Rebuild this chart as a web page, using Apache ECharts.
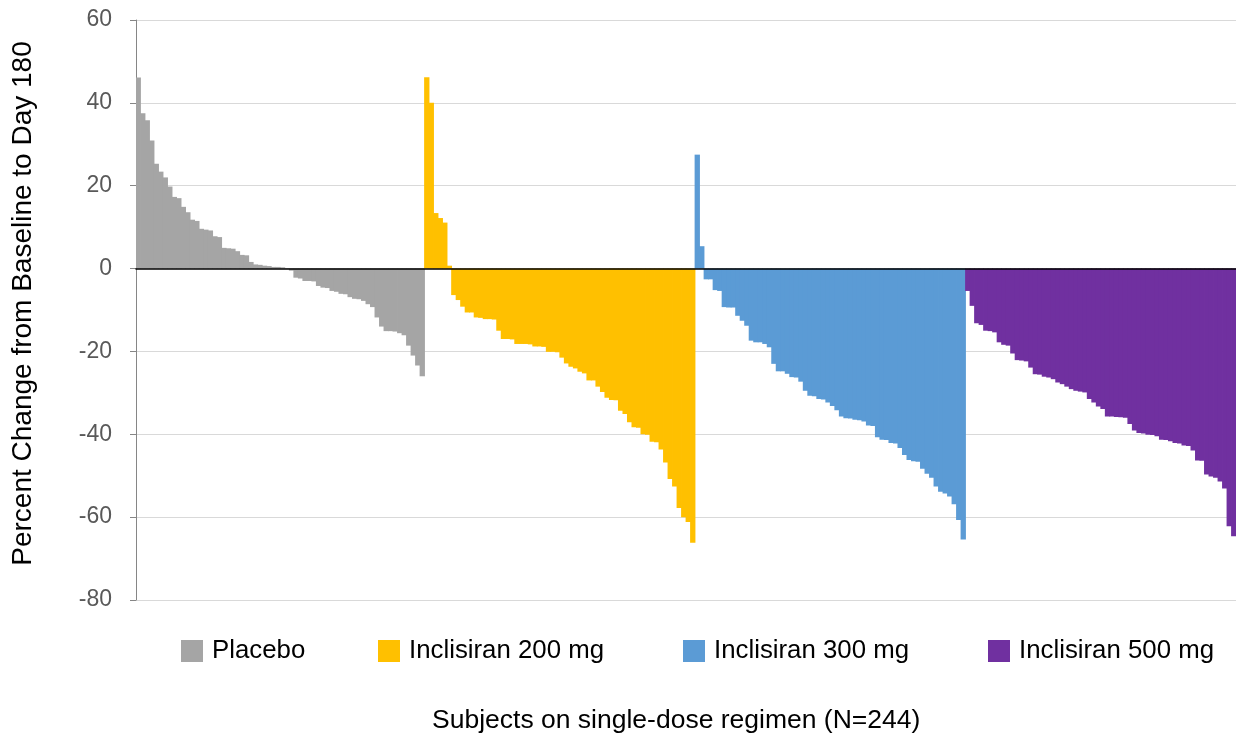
<!DOCTYPE html>
<html>
<head>
<meta charset="utf-8">
<script src="https://cdn.jsdelivr.net/npm/echarts@6/dist/echarts.min.js"></script>
<style>
html,body{margin:0;padding:0;background:#fff;}
#chart{width:1236px;height:740px;}
</style>
</head>
<body>
<div id="chart"></div>
<script>
// ---- data (percent change from baseline to day 180, sorted per group) ----
const seriesNames = ['Placebo', 'Inclisiran 200 mg', 'Inclisiran 300 mg', 'Inclisiran 500 mg'];

const placebo = [46.1, 37.5, 35.8, 30.9, 25.3, 23.4, 22.0, 19.8, 17.3, 17.0,
  14.9, 13.6, 11.8, 11.5, 9.6, 9.4, 9.2, 7.8, 7.6, 5.0,
  4.9, 4.8, 4.2, 3.3, 3.2, 1.6, 1.0, 0.9, 0.7, 0.6,
  0.4, 0.4, 0.3, -0.1, -0.5, -2.2, -2.4, -3.0, -3.0, -3.1,
  -4.2, -4.6, -4.7, -5.4, -5.6, -6.1, -6.2, -6.9, -7.3, -7.4,
  -7.8, -8.6, -9.3, -11.8, -14.0, -15.1, -15.1, -15.2, -15.6, -16.1,
  -18.6, -21.0, -23.4, -26.0];

const inc200 = [46.2, 40.0, 13.4, 12.2, 11.1, 0.7, -6.4, -7.6, -9.2, -10.6,
  -10.6, -11.8, -11.9, -12.2, -12.2, -12.3, -15.0, -17.0, -17.0, -17.1,
  -18.2, -18.2, -18.2, -18.3, -18.8, -18.8, -18.9, -20.1, -20.1, -20.2,
  -21.5, -22.9, -23.7, -24.1, -24.9, -25.3, -27.0, -27.0, -28.5, -29.8,
  -31.2, -31.7, -31.8, -34.3, -35.1, -37.1, -38.3, -38.4, -40.0, -40.1,
  -41.8, -41.9, -43.7, -46.8, -50.8, -52.6, -57.8, -60.0, -61.2, -66.2];

const inc300 = [27.5, 5.4, -2.6, -2.6, -5.2, -5.4, -9.3, -9.4, -9.4, -11.4,
  -12.6, -13.8, -17.4, -17.8, -17.8, -18.2, -19.0, -23.0, -24.8, -24.8,
  -25.4, -26.2, -26.3, -27.3, -29.5, -30.7, -30.8, -31.5, -31.6, -32.3,
  -33.2, -34.2, -35.7, -36.1, -36.2, -36.5, -36.6, -36.9, -37.9, -38.0,
  -40.7, -41.3, -41.4, -42.1, -42.2, -43.3, -45.0, -46.2, -46.5, -46.6,
  -48.3, -49.5, -50.5, -52.6, -53.9, -54.3, -55.0, -56.9, -60.7, -65.4];

const inc500 = [-5.4, -9.0, -13.2, -13.6, -15.0, -15.1, -15.4, -17.8, -18.4, -18.6,
  -20.5, -22.1, -22.2, -22.4, -23.9, -25.5, -25.6, -26.1, -26.3, -26.7,
  -27.5, -27.9, -28.5, -29.1, -29.5, -29.7, -29.9, -31.5, -32.3, -33.3,
  -33.9, -35.7, -35.7, -35.8, -35.9, -36.0, -37.5, -39.1, -39.7, -39.8,
  -40.1, -40.2, -40.5, -41.3, -41.4, -41.7, -42.1, -42.2, -42.7, -42.8,
  -43.9, -46.3, -46.4, -49.7, -50.2, -50.5, -51.4, -53.1, -62.2, -64.6];

const yTicks = [-80, -60, -40, -20, 0, 20, 40, 60];
const yTitle = 'Percent Change from Baseline to Day 180';
const xTitle = 'Subjects on single-dose regimen (N=244)';

// ---- build ----
const groups = [placebo, inc200, inc300, inc500];
const colors = ['#A5A5A5', '#FFC000', '#5B9BD5', '#7030A0'];
const total = groups.reduce((s, g) => s + g.length, 0);
const categories = [];
for (let i = 1; i <= total; i++) categories.push(String(i));

let offset = 0;
const series = groups.map((g, gi) => {
  const data = new Array(total).fill('-');
  g.forEach((v, k) => { data[offset + k] = v; });
  offset += g.length;
  return {
    name: seriesNames[gi],
    type: 'bar',
    stack: 'all',
    data: data,
    barWidth: '118%',
    itemStyle: { color: colors[gi] },
    emphasis: { disabled: true }
  };
});

const FONT = '"Liberation Sans", Arial, sans-serif';
const legendLefts = [181, 378, 683, 988];
const legends = seriesNames.map((n, i) => ({
  data: [n],
  left: legendLefts[i],
  top: 638,
  padding: 0,
  itemWidth: 22,
  itemHeight: 22,
  itemGap: 0,
  icon: 'rect',
  selectedMode: false,
  itemStyle: { borderWidth: 0 },
  textStyle: { fontFamily: FONT, fontSize: 25.8, color: '#000', padding: [0, 0, 0, 4] }
}));

const chart = echarts.init(document.getElementById('chart'), null, { renderer: 'canvas' });
chart.setOption({
  animation: false,
  backgroundColor: '#fff',
  color: colors,
  grid: { left: 136, right: 0, top: 20, bottom: 140, containLabel: false },
  legend: legends,
  title: {
    text: xTitle,
    left: 432,
    top: 707,
    padding: 0,
    textStyle: { fontFamily: FONT, fontSize: 26.5, fontWeight: 'normal', color: '#000' }
  },
  xAxis: {
    type: 'category',
    data: categories,
    z: 10,
    axisLine: { onZero: true, lineStyle: { color: '#000', width: 1.5 } },
    axisTick: { show: false },
    axisLabel: { show: false },
    splitLine: { show: false }
  },
  yAxis: {
    type: 'value',
    min: yTicks[0],
    max: yTicks[yTicks.length - 1],
    interval: 20,
    name: yTitle,
    nameLocation: 'middle',
    nameGap: 99,
    nameTextStyle: { fontFamily: FONT, fontSize: 28, color: '#000', padding: [0, 0, 0, 13] },
    axisLine: { show: true, lineStyle: { color: '#868686', width: 1 } },
    axisTick: { show: true, inside: false, length: 6, lineStyle: { color: '#868686' } },
    axisLabel: { fontFamily: FONT, fontSize: 23, color: '#595959', margin: 24 },
    splitLine: { show: true, lineStyle: { color: '#D9D9D9', width: 1 } }
  },
  series: series
});
</script>
</body>
</html>
